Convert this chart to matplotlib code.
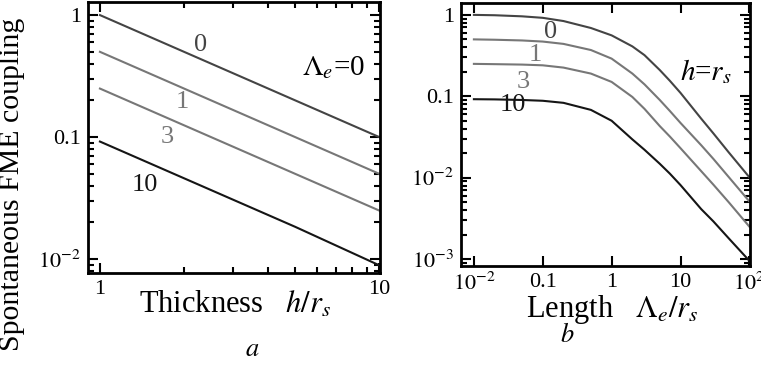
import numpy as np
import matplotlib
matplotlib.use('Agg')
import matplotlib.pyplot as plt
from matplotlib.ticker import LogLocator, NullFormatter

plt.rcParams['font.family'] = ['Liberation Serif', 'DejaVu Serif']
plt.rcParams['mathtext.fontset'] = 'stix'

# panel a: coupling vs thickness h/rs (Lambda_e = 0)
h_vals = [1, 2, 5, 10]
a_curves = {
    '0': [1.0, 0.5, 0.2, 0.1],
    '1': [0.5, 0.25, 0.1, 0.05],
    '3': [0.25, 0.125, 0.05, 0.025],
    '10': [0.092, 0.046, 0.0184, 0.0089],
}

# panel b: coupling vs length Lambda_e/rs (h = rs)
lam_vals = [0.01, 0.02, 0.05, 0.1, 0.2, 0.5, 1, 2, 3, 5, 7, 10, 20, 30, 50, 100]
b_curves = {
    '0': [1.0, 0.99, 0.96, 0.92, 0.84, 0.69, 0.56, 0.41, 0.32, 0.21, 0.155, 0.11, 0.053, 0.035, 0.0205, 0.0101],
    '1': [0.5, 0.495, 0.485, 0.47, 0.44, 0.37, 0.29, 0.19, 0.14, 0.09, 0.066, 0.047, 0.025, 0.017, 0.0102, 0.0051],
    '3': [0.25, 0.248, 0.245, 0.24, 0.225, 0.19, 0.15, 0.098, 0.07, 0.043, 0.032, 0.023, 0.012, 0.0082, 0.005, 0.0025],
    '10': [0.092, 0.0915, 0.09, 0.088, 0.083, 0.068, 0.05, 0.0295, 0.022, 0.0148, 0.0112, 0.0081, 0.0041, 0.0029, 0.0018, 0.00095],
}

colors = {'0': '#444444', '1': '#777777', '3': '#777777', '10': '#151515'}

fig = plt.figure(figsize=(7.61, 3.65), dpi=100)
ax1 = fig.add_axes([0.1156, 0.252, 0.3837, 0.7425])
ax2 = fig.add_axes([0.6058, 0.2712, 0.3797, 0.7206])

for k, v in a_curves.items():
    ax1.plot(h_vals, v, color=colors[k], lw=1.5)
for k, v in b_curves.items():
    ax2.plot(lam_vals, v, color=colors[k], lw=1.5)

for ax in (ax1, ax2):
    ax.set_xscale('log')
    ax.set_yscale('log')
    for s in ax.spines.values():
        s.set_linewidth(2)
    ax.tick_params(which='both', direction='in', top=True, right=True,
                   labelsize=16, width=1.5, pad=5)
    ax.tick_params(which='major', length=7)
    ax.tick_params(which='minor', length=4)
    ax.xaxis.set_minor_locator(LogLocator(base=10, subs=np.arange(2, 10)))
    ax.yaxis.set_minor_locator(LogLocator(base=10, subs=np.arange(2, 10)))
    ax.xaxis.set_minor_formatter(NullFormatter())
    ax.yaxis.set_minor_formatter(NullFormatter())

ax1.set_xlim(0.906, 10.05)
ax1.set_ylim(0.0077, 1.28)
ax1.set_xticks([1, 10], ['1', '10'])
ax1.set_yticks([0.01, 0.1, 1], ['$10^{-2}$', '0.1', '1'])

ax2.set_xlim(0.0065, 102)
ax2.set_ylim(0.00082, 1.4)
ax2.set_xticks([0.01, 0.1, 1, 10, 100], ['$10^{-2}$', '0.1', '1', '10', '$10^2$'])
ax2.set_yticks([0.001, 0.01, 0.1, 1], ['$10^{-3}$', '$10^{-2}$', '0.1', '1'])

# curve labels
lab_a = {'0': (2.3, 0.568), '1': (1.97, 0.194), '3': (1.74, 0.1), '10': (1.45, 0.0405)}
for k, (x, y) in lab_a.items():
    ax1.text(x, y, k, color=colors[k], fontsize=19, ha='center', va='center')
lab_b = {'0': (0.128, 0.618), '1': (0.077, 0.323), '3': (0.0516, 0.151), '10': (0.037, 0.079)}
for k, (x, y) in lab_b.items():
    ax2.text(x, y, k, color=colors[k], fontsize=19, ha='center', va='center')

ax1.text(6.84, 0.368, r'$\mathit{\Lambda}_e$=0', fontsize=21, ha='center', va='center')
ax2.text(23, 0.2, r'$h$=$r_s$', fontsize=21, ha='center', va='center')

fig.text(0.016, 0.496, 'Spontaneous FME coupling', fontsize=21.5, rotation=90,
         ha='center', va='center')
fig.text(0.309, 0.164, r'Thickness   $h/r_s$', fontsize=22, ha='center', va='center')
fig.text(0.805, 0.151, r'Length   $\mathit{\Lambda}_e/r_s$', fontsize=22, ha='center', va='center')
fig.text(0.331, 0.041, r'$a$', fontsize=19, ha='center', va='center')
fig.text(0.745, 0.082, r'$b$', fontsize=19, ha='center', va='center')
fig.text(0.767, -0.012, r'$s$', fontsize=14, ha='center', va='center')

fig.savefig('out.png', dpi=100)
